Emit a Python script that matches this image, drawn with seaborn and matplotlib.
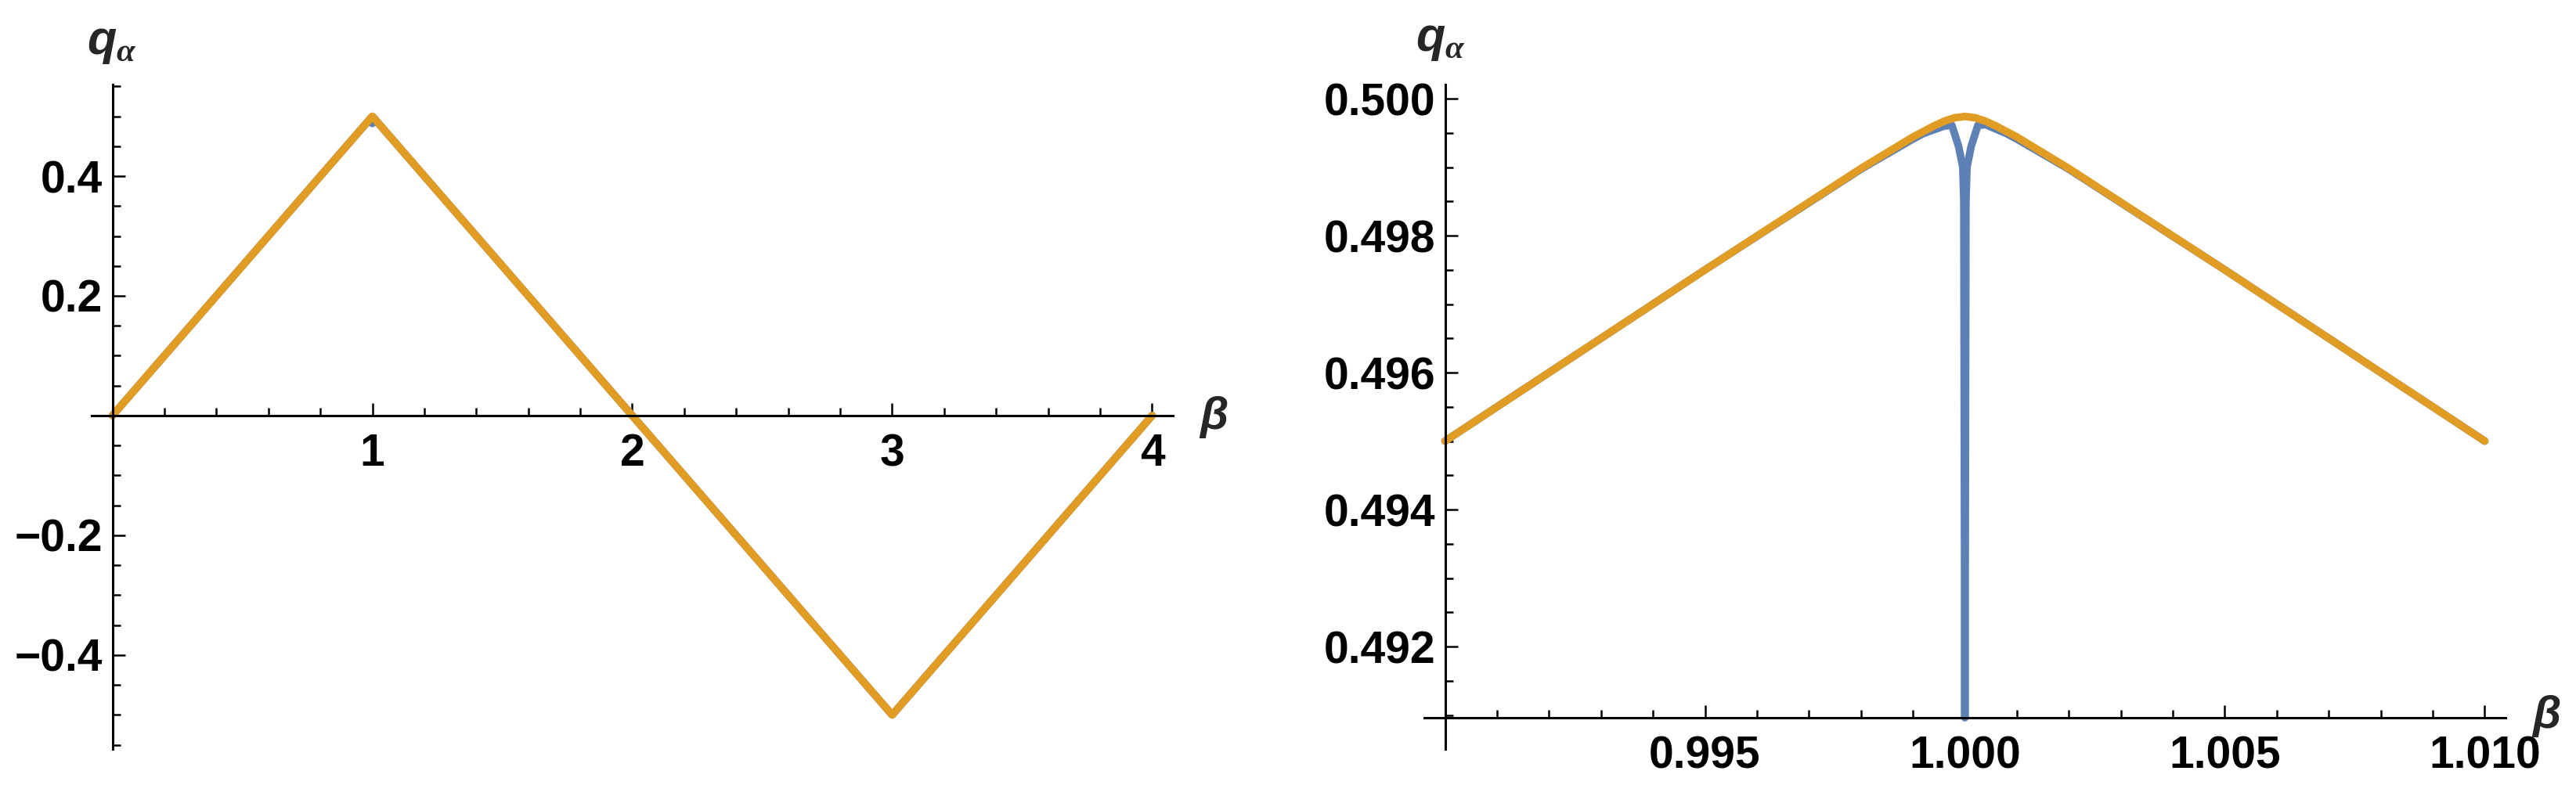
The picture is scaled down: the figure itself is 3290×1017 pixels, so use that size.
# q_alpha vs beta, full range and zoom around beta = 1

import matplotlib
matplotlib.use("Agg")
import matplotlib.pyplot as plt
import seaborn as sns
from matplotlib.ticker import FixedLocator, MultipleLocator

sns.set_theme(style="white")
plt.rcParams['font.family'] = ['Liberation Sans', 'DejaVu Sans']
plt.rcParams['font.weight'] = 'bold'
plt.rcParams['mathtext.fontset'] = 'custom'
plt.rcParams['mathtext.it'] = 'Liberation Sans:italic:bold'
plt.rcParams['mathtext.rm'] = 'Liberation Serif:italic'

BLUE = '#5E81B5'
ORANGE = '#E19C24'

# ---- data ----
# left panel (full range)
beta_full_orange = [0, 1, 2, 3, 4]
q_full_orange = [0, 0.5, 0, -0.5, 0]
beta_full_blue = [0, 0.998, 1.0, 1.002, 2, 3, 4]
q_full_blue = [0, 0.499, 0.488, 0.499, 0, -0.5, 0]

# right panel (zoom near beta = 1)
beta_zoom_orange = [0.990, 0.995, 0.998, 0.9985, 0.999, 0.9992, 0.9994,
                    0.9996, 0.9998, 1.0000, 1.0002, 1.0004, 1.0006, 1.0008,
                    1.001, 1.0015, 1.002, 1.005, 1.010]
q_zoom_orange = [0.4950, 0.4975, 0.49898, 0.49921, 0.49944, 0.49952, 0.49960,
                 0.49967, 0.49972, 0.49974, 0.49972, 0.49967, 0.49960, 0.49952,
                 0.49944, 0.49921, 0.49898, 0.4975, 0.4950]
beta_zoom_blue = [0.990, 0.995, 0.998, 0.9985, 0.999, 0.9992, 0.9996,
                  0.99975, 0.99988, 0.99996, 0.99998, 1.0000, 1.00002,
                  1.00004, 1.00012, 1.00025, 1.0004, 1.0008, 1.001, 1.0015,
                  1.002, 1.005, 1.010]
q_zoom_blue = [0.4950, 0.4975, 0.49897, 0.49919, 0.49941, 0.49949, 0.49960,
               0.49961, 0.49930, 0.49900, 0.4985, 0.49096, 0.4985,
               0.49900, 0.49930, 0.49961, 0.49962, 0.49949, 0.49941, 0.49919,
               0.49897, 0.4975, 0.4950]

full_xticks = [1, 2, 3, 4]
full_xlabels = ['1', '2', '3', '4']
full_yticks = [-0.4, -0.2, 0.2, 0.4]
full_ylabels = ['\u22120.4', '\u22120.2', '0.2', '0.4']

zoom_xticks = [0.995, 1.000, 1.005, 1.010]
zoom_xlabels = ['0.995', '1.000', '1.005', '1.010']
zoom_yticks = [0.492, 0.494, 0.496, 0.498, 0.500]
zoom_ylabels = ['0.492', '0.494', '0.496', '0.498', '0.500']

W, H = 3291, 1017
fig = plt.figure(figsize=(W / 100, H / 100), dpi=100)
ax1 = fig.add_axes([117 / W, 1 - 957 / H, 1381 / W, 849 / H])
ax2 = fig.add_axes([1819 / W, 1 - 957 / H, 1381 / W, 849 / H])


def draw(ax, bx, by, ox, oy):
    sns.lineplot(x=bx, y=by, ax=ax, color=BLUE, linewidth=7,
                 estimator=None, sort=False, solid_joinstyle='round')
    sns.lineplot(x=ox, y=oy, ax=ax, color=ORANGE, linewidth=7,
                 estimator=None, sort=False, solid_joinstyle='round',
                 solid_capstyle='round')


def style_axes(ax, x0, y0):
    ax.set_xlabel('')
    ax.set_ylabel('')
    ax.grid(False)
    ax.spines['left'].set_position(('data', x0))
    ax.spines['bottom'].set_position(('data', y0))
    ax.spines['top'].set_visible(False)
    ax.spines['right'].set_visible(False)
    for s in ('left', 'bottom'):
        ax.spines[s].set_linewidth(2.2)
        ax.spines[s].set_color('black')
    ax.tick_params(which='both', direction='in', color='black', width=1.8,
                   labelsize=41, labelcolor='black')
    ax.tick_params(which='major', length=11.5)
    ax.tick_params(which='minor', length=7)
    ax.tick_params(axis='x', which='both', pad=16)
    ax.tick_params(axis='y', which='both', pad=9)
    ax.tick_params(left=True, bottom=True, which='both')


draw(ax1, beta_full_blue, q_full_blue, beta_full_orange, q_full_orange)
ax1.set_xlim(-0.08, 4.08)
ax1.set_ylim(-0.557, 0.553)
ax1.xaxis.set_major_locator(FixedLocator(full_xticks))
ax1.xaxis.set_minor_locator(MultipleLocator(0.2))
ax1.yaxis.set_major_locator(FixedLocator(full_yticks))
ax1.yaxis.set_minor_locator(MultipleLocator(0.05))
ax1.set_xticklabels(full_xlabels)
ax1.set_yticklabels(full_ylabels)
style_axes(ax1, 0, 0)

draw(ax2, beta_zoom_blue, q_zoom_blue, beta_zoom_orange, q_zoom_orange)
ax2.set_xlim(0.9896, 1.0104)
ax2.set_ylim(0.490503, 0.500206)
ax2.xaxis.set_major_locator(FixedLocator(zoom_xticks))
ax2.xaxis.set_minor_locator(MultipleLocator(0.001))
ax2.yaxis.set_major_locator(FixedLocator(zoom_yticks))
ax2.yaxis.set_minor_locator(MultipleLocator(0.0005))
ax2.set_xticklabels(zoom_xlabels)
ax2.set_yticklabels(zoom_ylabels)
style_axes(ax2, 0.99, 0.49096)

# axis labels, Mathematica style at the axis ends
qlab = r'$q_{\mathrm{\alpha}}$'
fig.text(143 / W, 1 - 55 / H, qlab, fontsize=44, ha='center', va='center')
fig.text(1840 / W, 1 - 52 / H, qlab, fontsize=44, ha='center', va='center')
fig.text(1550 / W, 1 - 533 / H, r'$\beta$', fontsize=42, ha='center', va='center')
fig.text(3252 / W, 1 - 915 / H, r'$\beta$', fontsize=42, ha='center', va='center')

fig.savefig('out.png', dpi=100, facecolor='white')
